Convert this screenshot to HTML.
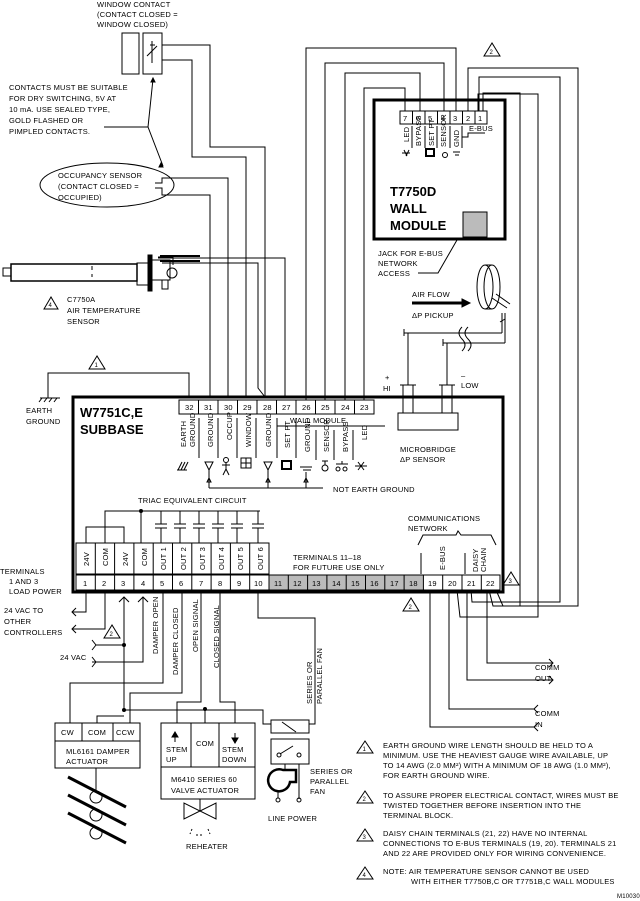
<!DOCTYPE html>
<html><head><meta charset="utf-8"><style>
body{margin:0;background:#fff}
svg{display:block}
text{font-family:"Liberation Sans",sans-serif;font-size:7.5px;fill:#000;letter-spacing:0.2px}
.b{font-weight:bold;font-size:13px;letter-spacing:0}
</style></head><body>
<svg width="640" height="901" viewBox="0 0 640 901" xmlns="http://www.w3.org/2000/svg" fill="none" stroke="#000" stroke-width="1">
<text x="97" y="7" stroke="none">WINDOW CONTACT</text>
<text x="97" y="17" stroke="none">(CONTACT CLOSED =</text>
<text x="97" y="27" stroke="none">WINDOW CLOSED)</text>
<rect x="122" y="33" width="17" height="41"/><rect x="143" y="33" width="19" height="41"/>
<path d="M152 41v22M147 56l10-10M150 45h5"/>
<path d="M162 45h48v102h55v250M162 60h30v97h54v240"/>
<text x="9" y="90" stroke="none">CONTACTS MUST BE  SUITABLE</text>
<text x="9" y="101" stroke="none">FOR DRY SWITCHING, 5V AT</text>
<text x="9" y="112" stroke="none">10 mA. USE SEALED TYPE,</text>
<text x="9" y="123" stroke="none">GOLD FLASHED OR</text>
<text x="9" y="134" stroke="none">PIMPLED CONTACTS.</text>
<path d="M104 127h44l5-48M148 127l15 39"/>
<path d="M151 82l2-4 2 4zM161 163l2 4 -4 0z" fill="#000"/>
<ellipse cx="107" cy="185" rx="67" ry="22"/>
<text x="58" y="178" stroke="none">OCCUPANCY SENSOR</text>
<text x="58" y="189" stroke="none">(CONTACT CLOSED =</text>
<text x="58" y="200" stroke="none">OCCUPIED)</text>
<path d="M155 183h7v-5h66v219M155 188h7v7h48v202"/>
<rect x="3" y="268" width="8" height="8"/>
<rect x="11" y="264" width="126" height="17" stroke-width="1.5"/>
<path d="M92 266v4M92 274v3"/>
<rect x="137" y="263" width="12" height="22"/><rect x="148" y="255" width="4" height="36" fill="#000"/>
<path d="M152 260h18v20h-18M158 257h15v8M162 280v9h6v-9"/>
<circle cx="172" cy="273" r="5"/>
<path d="M158 258h127v139M162 263h96v125l7 9" stroke-width="1"/>
<path d="M160 256h40M160 261h40" stroke-width="2"/>
<polygon points="51,297 44,309 58,309"/><text x="48.5" y="307" stroke="none" style="font-size:6px">4</text>
<text x="67" y="302" stroke="none">C7750A</text>
<text x="67" y="313" stroke="none">AIR TEMPERATURE</text>
<text x="67" y="324" stroke="none">SENSOR</text>
<polygon points="97,356 89,369 105,369"/><text x="94.5" y="367" stroke="none" style="font-size:6px">1</text>
<path d="M189 397v-24h-141v25M40 398h20M42 398l-3 4M47 398l-3 4M52 398l-3 4M57 398l-3 4"/>
<text x="26" y="413" stroke="none">EARTH</text>
<text x="26" y="424" stroke="none">GROUND</text>
<rect x="73" y="397" width="430" height="195" stroke-width="3"/>
<text class="b" x="80" y="417" stroke="none">W7751C,E</text>
<text class="b" x="80" y="434" stroke="none">SUBBASE</text>
<g>
<rect x="179" y="400" width="195" height="14"/>
<path d="M198.5 400v14M218 400v14M237.5 400v14M257 400v14M276.5 400v14M296 400v14M315.5 400v14M335 400v14M354.5 400v14"/>
<g stroke="none">
<text x="185" y="410">32</text><text x="204" y="410">31</text><text x="224" y="410">30</text><text x="243" y="410">29</text><text x="263" y="410">28</text><text x="282" y="410">27</text><text x="302" y="410">26</text><text x="321" y="410">25</text><text x="341" y="410">24</text><text x="360" y="410">23</text>
</g>
</g>
<path d="M306 400v-352h150v63M325 400v-337h119v48M345 400v-327h75v38M364 400v-312h41v23"/>
<path d="M468 111v-43h110v538h-85l-4 -16M479 111v-34h81v525h-88l-1 -12M478 111v-17h60v523h-78l-3 -27M483 111v-18h37v513h-17l-7 -16"/>
<text x="290" y="423" stroke="none">WALL MODULE</text>
<path d="M277 426h108"/>
<path d="M199 418v40M218 418v40M237 418v40M256 418v40M277 418v40M296 418v40M316 430v30M334 430v30M353 430v30"/>
<g stroke="none">
<text transform="translate(186,447) rotate(-90)">EARTH</text>
<text transform="translate(195,447) rotate(-90)">GROUND</text>
<text transform="translate(213,447) rotate(-90)">GROUND</text>
<text transform="translate(232,440) rotate(-90)">OCCUP</text>
<text transform="translate(251,447) rotate(-90)">WINDOW</text>
<text transform="translate(271,447) rotate(-90)">GROUND</text>
<text transform="translate(290,448) rotate(-90)">SET PT</text>
<text transform="translate(310,452) rotate(-90)">GROUND</text>
<text transform="translate(329,452) rotate(-90)">SENSOR</text>
<text transform="translate(348,452) rotate(-90)">BYPASS</text>
<text transform="translate(367,440) rotate(-90)">LED</text>
</g>
<path d="M178 470l4-8M181 470l4-8M184 470l4-8M177 470h10"/>
<path d="M205 462h8l-4 8z M209 470v18M209 478l-2 4h4z"/>
<circle cx="226" cy="460" r="2.5"/><path d="M226 463v6M222 465h8M226 469l-3 6M226 469l3 6"/>
<rect x="241" y="458" width="10" height="10"/><path d="M246 458v10M241 463h10"/>
<path d="M264 462h8l-4 8z M268 470v18M268 478l-2 4h4z"/>
<rect x="282" y="461" width="9" height="8" stroke-width="2"/>
<path d="M300 467h12M303 470h8M306 472v16M306 478l-2 4h4z"/>
<circle cx="325" cy="468" r="3"/><path d="M325 465v-4M322 461h6"/>
<circle cx="338" cy="469" r="2"/><circle cx="345" cy="469" r="2"/><path d="M336 464h12M342 464v-3"/>
<path d="M355 466h12M358 462l6 8M364 462l-6 8"/>
<path d="M209 488h114"/>
<text x="333" y="492" stroke="none">NOT EARTH GROUND</text>
<rect x="398" y="413" width="60" height="17"/>
<text x="400" y="452" stroke="none">MICROBRIDGE</text>
<text x="400" y="462" stroke="none">ΔP SENSOR</text>
<path d="M403 413v-28M413 413v-28M442 413v-28M452 413v-28M400 385h16M439 385h16M398 397h20M437 397h20"/>
<path d="M408 385v-52h94M447 385v-42h58M404 333h8M404 329v7M443 343h8M443 339v7"/>
<text x="385" y="380" stroke="none">+</text><text x="383" y="391" stroke="none">HI</text>
<text x="461" y="378" stroke="none">–</text><text x="461" y="388" stroke="none">LOW</text>
<path d="M462 327q-6 6 0 12q6 6 0 12M468 327q-6 6 0 12q6 6 0 12"/>
<path d="M502 333v-20M505 343v-30M500 322l5-3"/>
<ellipse cx="485" cy="287" rx="8" ry="22"/><ellipse cx="492" cy="287" rx="8" ry="22"/>
<path d="M485 265h7M485 309h7M492 298l15 10M496 294l14 10" />
<text x="412" y="297" stroke="none">AIR FLOW</text>
<text x="412" y="318" stroke="none">ΔP PICKUP</text>
<path d="M412 303h52" stroke-width="3"/><path d="M462 299l8 4-8 4z" fill="#000"/>
<rect x="374" y="100" width="131" height="139" stroke-width="3"/>
<rect x="400" y="111" width="87" height="13"/>
<path d="M412.5 111v13M425 111v13M437.5 111v13M450 111v13M462.5 111v13M475 111v13"/>
<g stroke="none"><text x="403" y="121">7</text><text x="416" y="121">6</text><text x="428" y="121">5</text><text x="441" y="121">4</text><text x="453" y="121">3</text><text x="466" y="121">2</text><text x="478" y="121">1</text></g>
<path d="M412 126v22M425 126v22M437 126v22M450 126v22M462 126v22M462 137h6v-4h17"/>
<g stroke="none" style="font-size:4.5px;letter-spacing:0">
<text transform="translate(409,142) rotate(-90)">LED</text>
<text transform="translate(421,146) rotate(-90)">BYPASS</text>
<text transform="translate(434,146) rotate(-90)">SET PT</text>
<text transform="translate(446,147) rotate(-90)">SENSOR</text>
<text transform="translate(459,147) rotate(-90)">GND</text>
<text x="469" y="131">E-BUS</text>
</g>
<path d="M402 153h8M404 150l3 6M409 150l-3 6" /><rect x="426" y="149" width="8" height="7" stroke-width="2"/><circle cx="445" cy="155" r="2.5"/><path d="M453 152h7M455 155h4"/>
<text class="b" x="390" y="196" stroke="none">T7750D</text>
<text class="b" x="390" y="213" stroke="none">WALL</text>
<text class="b" x="390" y="230" stroke="none">MODULE</text>
<rect x="463" y="212" width="24" height="25" fill="#bbb"/>
<text x="378" y="256" stroke="none">JACK FOR E-BUS</text>
<text x="378" y="266" stroke="none">NETWORK</text>
<text x="378" y="276" stroke="none">ACCESS</text>
<path d="M418 273h20l19-33"/>
<polygon points="492,43 484,56 500,56"/><text x="489.5" y="54" stroke="none" style="font-size:6px">2</text>
<text x="138" y="503" stroke="none">TRIAC EQUIVALENT CIRCUIT</text>
<path d="M86 543v-16h38v16M105 543v-32h155M141 511v32"/>
<circle cx="141" cy="511" r="1.5" fill="#000"/>
<g>
<path d="M161 511v13M155 524h12M155 528h12M161 528v15"/>
<path d="M180 511v13M174 524h12M174 528h12M180 528v15"/>
<path d="M199 511v13M193 524h12M193 528h12M199 528v15"/>
<path d="M218 511v13M212 524h12M212 528h12M218 528v15"/>
<path d="M237 511v13M231 524h12M231 528h12M237 528v15"/>
<path d="M258 511v13M252 524h12M252 528h12M258 528v15"/>
</g>
<rect x="76" y="543" width="193" height="31"/>
<path d="M95.3 543v31M114.6 543v31M133.9 543v31M153.2 543v31M172.5 543v31M191.8 543v31M211.1 543v31M230.4 543v31M249.7 543v31"/>
<g stroke="none">
<text transform="translate(89,566) rotate(-90)">24V</text>
<text transform="translate(108,566) rotate(-90)">COM</text>
<text transform="translate(128,566) rotate(-90)">24V</text>
<text transform="translate(147,566) rotate(-90)">COM</text>
<text transform="translate(166,570) rotate(-90)">OUT 1</text>
<text transform="translate(186,570) rotate(-90)">OUT 2</text>
<text transform="translate(205,570) rotate(-90)">OUT 3</text>
<text transform="translate(224,570) rotate(-90)">OUT 4</text>
<text transform="translate(243,570) rotate(-90)">OUT 5</text>
<text transform="translate(263,570) rotate(-90)">OUT 6</text>
</g>
<text x="293" y="560" stroke="none">TERMINALS 11–18</text>
<text x="293" y="570" stroke="none">FOR FUTURE USE ONLY</text>
<text x="408" y="521" stroke="none">COMMUNICATIONS</text>
<text x="408" y="531" stroke="none">NETWORK</text>
<path d="M418 545l5-10h33l2-4 3 4h30l5 10M421 553v21M465 553v21"/>
<g stroke="none">
<text transform="translate(445,570) rotate(-90)">E-BUS</text>
<text transform="translate(478,572) rotate(-90)">DAISY</text>
<text transform="translate(486,572) rotate(-90)">CHAIN</text>
</g>
<rect x="269" y="575" width="154" height="15" fill="#bbb" stroke="none"/>
<rect x="76" y="575" width="424" height="15"/>
<path d="M95.3 575v15M114.6 575v15M133.9 575v15M153.2 575v15M172.5 575v15M191.8 575v15M211.1 575v15M230.4 575v15M249.7 575v15M269 575v15M288.3 575v15M307.6 575v15M326.9 575v15M346.2 575v15M365.5 575v15M384.8 575v15M404.1 575v15M423.4 575v15M442.7 575v15M462 575v15M481.3 575v15"/>
<g stroke="none">
<text x="83" y="586">1</text><text x="102" y="586">2</text><text x="121" y="586">3</text><text x="141" y="586">4</text><text x="160" y="586">5</text><text x="179" y="586">6</text><text x="199" y="586">7</text><text x="218" y="586">8</text><text x="237" y="586">9</text><text x="254" y="586">10</text>
<text x="274" y="586">11</text><text x="293" y="586">12</text><text x="312" y="586">13</text><text x="332" y="586">14</text><text x="351" y="586">15</text><text x="370" y="586">16</text><text x="390" y="586">17</text><text x="409" y="586">18</text><text x="428" y="586">19</text><text x="448" y="586">20</text><text x="467" y="586">21</text><text x="486" y="586">22</text>
</g>
<polygon points="511,572 503,585 519,585"/><text x="508.5" y="583" stroke="none" style="font-size:6px">3</text>
<polygon points="411,598 403,611 419,611"/><text x="408.5" y="609" stroke="none" style="font-size:6px">2</text>
<text x="0" y="574" stroke="none">TERMINALS</text>
<text x="9" y="584" stroke="none">1 AND 3</text>
<text x="9" y="594" stroke="none">LOAD POWER</text>
<path d="M86 592v20h-14M76 608l-4 4 4 4M105 592v37h-33M76 625l-4 4 4 4"/>
<text x="4" y="613" stroke="none">24 VAC TO</text>
<text x="4" y="624" stroke="none">OTHER</text>
<text x="4" y="635" stroke="none">CONTROLLERS</text>
<path d="M124 597v113M119 602l5-5 5 5M143 597v65h-51M138 602l5-5 5 5"/>
<path d="M92 640l4 5h28M92 650l4-5M92 657l4 5M92 667l4-5"/>
<circle cx="124" cy="645" r="1.5" fill="#000"/>
<text x="60" y="660" stroke="none">24 VAC</text>
<polygon points="112,625 104,638 120,638"/><text x="109.5" y="636" stroke="none" style="font-size:6px">2</text>
<path d="M163 592v91h-93v40M182 592v101h-52v30M97 723v-7h27M124 710h139v14h8"/>
<circle cx="124" cy="710" r="1.5" fill="#000"/>
<path d="M201 592v110h-24v21M220 592v110h15v21M205 709v14"/>
<circle cx="205" cy="709" r="1.5" fill="#000"/>
<path d="M258 592v26h57v106h-6"/>
<g stroke="none">
<text transform="translate(158,654) rotate(-90)">DAMPER OPEN</text>
<text transform="translate(178,675) rotate(-90)">DAMPER CLOSED</text>
<text transform="translate(198,652) rotate(-90)">OPEN SIGNAL</text>
<text transform="translate(219,668) rotate(-90)">CLOSED SIGNAL</text>
<text transform="translate(312,704) rotate(-90)">SERIES OR</text>
<text transform="translate(322,704) rotate(-90)">PARALLEL FAN</text>
</g>
<rect x="55" y="723" width="85" height="45"/>
<path d="M55 741h85M82 723v18M113 723v18"/>
<g stroke="none"><text x="61" y="735">CW</text><text x="88" y="735">COM</text><text x="116" y="735">CCW</text>
<text x="66" y="754">ML6161 DAMPER</text><text x="66" y="764">ACTUATOR</text></g>
<path d="M96 768v25"/>
<circle cx="96" cy="797" r="6"/><circle cx="96" cy="815" r="6"/><circle cx="96" cy="833" r="6"/>
<path d="M68 777l58 30M68 795l58 30M68 813l58 30" stroke-width="3"/>
<rect x="161" y="723" width="94" height="76"/>
<path d="M161 767h94M191 723v44M219 723v44"/>
<path d="M175 742v-9M172 737l3-5 3 5z M235 733v9M232 738l3 5 3-5z" fill="#000"/>
<g stroke="none"><text x="166" y="752">STEM</text><text x="166" y="762">UP</text><text x="196" y="746">COM</text><text x="222" y="752">STEM</text><text x="222" y="762">DOWN</text>
<text x="171" y="782">M6410 SERIES 60</text><text x="171" y="793">VALVE ACTUATOR</text></g>
<path d="M184 803v16l16-8zM216 803v16l-16-8zM200 799v12"/>
<path d="M192 829l-2 5M196 835h8M208 829l2 5" stroke-dasharray="2 2"/>
<text x="186" y="849" stroke="none">REHEATER</text>
<rect x="271" y="720" width="38" height="13"/><path d="M282 722l14 10"/>
<rect x="271" y="739" width="38" height="25"/>
<circle cx="279" cy="755" r="2"/><circle cx="299" cy="755" r="2"/><path d="M280 754l13-8"/>
<path d="M285 764v5M299 764v35"/>
<path d="M283 770h13v12h-6a11 11 0 1 1 -7 -12z" stroke-width="2.5"/>
<path d="M278 792v6"/><circle cx="278" cy="800" r="2"/><circle cx="299" cy="800" r="2"/>
<text x="268" y="821" stroke="none">LINE POWER</text>
<text x="310" y="774" stroke="none">SERIES OR</text>
<text x="310" y="784" stroke="none">PARALLEL</text>
<text x="310" y="794" stroke="none">FAN</text>
<path d="M487 590v73h66M549 659l4 4-4 4M467 590v90h86M549 676l4 4-4 4M449 590v119h85M538 705l-4 4 4 4M430 590v137h104M538 723l-4 4 4 4"/>
<text x="535" y="670" stroke="none">COMM</text><text x="535" y="681" stroke="none">OUT</text>
<text x="535" y="716" stroke="none">COMM</text><text x="535" y="727" stroke="none">IN</text>
<g stroke="none" style="font-size:7.6px">
<text x="383" y="748">EARTH GROUND WIRE LENGTH SHOULD BE HELD TO A</text>
<text x="383" y="758">MINIMUM. USE THE HEAVIEST GAUGE WIRE AVAILABLE, UP</text>
<text x="383" y="768">TO 14 AWG (2.0 MM²) WITH A MINIMUM OF 18 AWG (1.0 MM²),</text>
<text x="383" y="778">FOR EARTH GROUND WIRE.</text>
<text x="383" y="798">TO ASSURE PROPER ELECTRICAL CONTACT, WIRES MUST BE</text>
<text x="383" y="808">TWISTED TOGETHER BEFORE INSERTION INTO THE</text>
<text x="383" y="818">TERMINAL BLOCK.</text>
<text x="383" y="836">DAISY CHAIN TERMINALS (21, 22) HAVE NO INTERNAL</text>
<text x="383" y="846">CONNECTIONS TO E-BUS TERMINALS (19, 20). TERMINALS 21</text>
<text x="383" y="856">AND 22 ARE PROVIDED ONLY FOR WIRING CONVENIENCE.</text>
<text x="383" y="874">NOTE:  AIR TEMPERATURE SENSOR CANNOT BE USED</text>
<text x="411" y="884">WITH EITHER T7750B,C OR T7751B,C WALL MODULES</text>
<text x="617" y="898" style="font-size:6px">M10030</text>
</g>
<polygon points="365,741 357,753 373,753"/><text x="362.5" y="751" stroke="none" style="font-size:6px">1</text>
<polygon points="365,791 357,803 373,803"/><text x="362.5" y="801" stroke="none" style="font-size:6px">2</text>
<polygon points="365,829 357,841 373,841"/><text x="362.5" y="839" stroke="none" style="font-size:6px">3</text>
<polygon points="365,867 357,879 373,879"/><text x="362.5" y="877" stroke="none" style="font-size:6px">4</text>
</svg>
</body></html>
